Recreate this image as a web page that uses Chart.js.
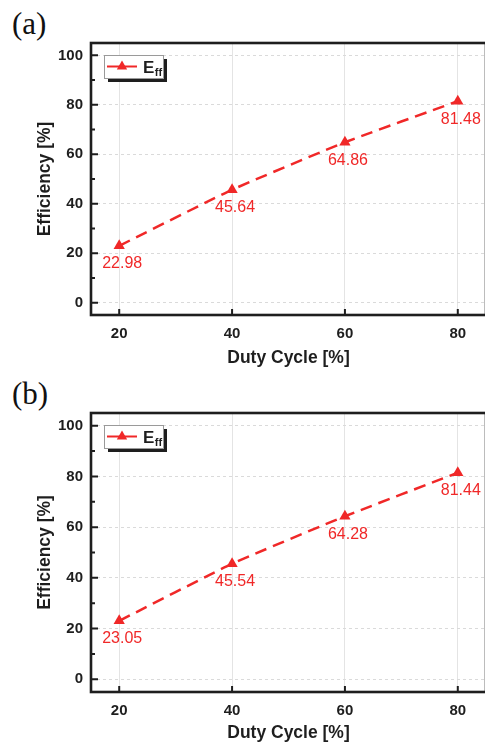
<!DOCTYPE html>
<html>
<head>
<meta charset="utf-8">
<script src="https://cdn.jsdelivr.net/npm/chart.js@4/dist/chart.umd.min.js"></script>
<style>
  html, body { margin: 0; padding: 0; background: #fff; overflow: hidden; }
  body { width: 485px; height: 746px; position: relative; }
  .panel { position: absolute; left: 0; width: 500px; }
  .tag { position: absolute; left: 12px; font-family: "Liberation Serif", "DejaVu Serif", serif; font-size: 31px; line-height: 1; color: #111; }
</style>
</head>
<body>
<div class="tag" style="top:8px;">(a)</div>
<div class="tag" style="top:378px;">(b)</div>
<div class="panel" style="top:0; height:372px;"><canvas id="ca"></canvas></div>
<div class="panel" style="top:372px; height:374px;"><canvas id="cb"></canvas></div>
<script>
// ---- data ----
const dutyCycle = [20, 40, 60, 80];
const effA = [22.98, 45.64, 64.86, 81.48];
const effB = [23.05, 45.54, 64.28, 81.44];
const xTicks = [20, 40, 60, 80];
const yTicks = [0, 20, 40, 60, 80, 100];
const yMinorTicks = [10, 30, 50, 70, 90];
const seriesName = 'E';
const seriesSub = 'ff';
const xTitle = 'Duty Cycle [%]';
const yTitle = 'Efficiency [%]';

const RED = '#f02828';
const INK = '#1e1e1e';
const FONT = 'Arial, "Liberation Sans", sans-serif';

const framePlugin = {
  id: 'frame',
  afterDatasetsDraw(chart) {
    const { ctx, chartArea: a, scales } = chart;
    const xs = scales.x, ys = scales.y;
    ctx.save();
    // ticks
    ctx.strokeStyle = INK;
    ctx.lineWidth = 2;
    ctx.beginPath();
    yTicks.forEach(v => { const p = ys.getPixelForValue(v); ctx.moveTo(a.left, p); ctx.lineTo(a.left + 7, p); });
    yMinorTicks.forEach(v => { const p = ys.getPixelForValue(v); ctx.moveTo(a.left, p); ctx.lineTo(a.left + 4, p); });
    xTicks.forEach(v => { const p = xs.getPixelForValue(v); ctx.moveTo(p, a.bottom); ctx.lineTo(p, a.bottom - 6); });
    ctx.stroke();
    // frame
    ctx.lineWidth = 2.6;
    ctx.strokeRect(a.left, a.top, a.right - a.left, a.bottom - a.top);
    // data labels
    const meta = chart.getDatasetMeta(0);
    const data = chart.data.datasets[0].data;
    ctx.fillStyle = RED;
    ctx.font = '16px ' + FONT;
    ctx.textAlign = 'center';
    ctx.textBaseline = 'middle';
    meta.data.forEach((pt, i) => {
      ctx.fillText(data[i].y.toFixed(2), pt.x + 3, pt.y + 18);
    });
    // legend
    const bx = a.left + 13, by = a.top + 12, bw = 59, bh = 23;
    ctx.fillStyle = INK;
    ctx.fillRect(bx + 4, by + 4, bw, bh);
    ctx.fillStyle = '#fff';
    ctx.fillRect(bx, by, bw, bh);
    ctx.strokeStyle = '#9a9a9a';
    ctx.lineWidth = 1;
    ctx.strokeRect(bx + 0.5, by + 0.5, bw, bh);
    const ly = by + bh / 2;
    ctx.strokeStyle = RED;
    ctx.lineWidth = 2;
    ctx.beginPath();
    ctx.moveTo(bx + 3, ly); ctx.lineTo(bx + 33, ly);
    ctx.stroke();
    ctx.fillStyle = RED;
    const tx = bx + 18, r = 6;
    ctx.beginPath();
    ctx.moveTo(tx, ly - r);
    ctx.lineTo(tx + r * 0.866, ly + r * 0.5);
    ctx.lineTo(tx - r * 0.866, ly + r * 0.5);
    ctx.closePath();
    ctx.fill();
    ctx.fillStyle = INK;
    ctx.textAlign = 'left';
    ctx.textBaseline = 'alphabetic';
    ctx.font = 'bold 17px ' + FONT;
    ctx.fillText(seriesName, bx + 39, ly + 6);
    const ew = ctx.measureText(seriesName).width;
    ctx.font = 'bold 11px ' + FONT;
    ctx.fillText(seriesSub, bx + 39 + ew + 0.5, ly + 9);
    ctx.restore();
  }
};

function makeChart(id, values, padTop, xAxisH, titlePadBottom) {
  return new Chart(document.getElementById(id), {
    type: 'line',
    data: {
      datasets: [{
        data: dutyCycle.map((x, i) => ({ x, y: values[i] })),
        borderColor: RED,
        backgroundColor: RED,
        borderWidth: 2.5,
        borderDash: [12, 7],
        tension: 0.15,
        pointStyle: 'triangle',
        pointRadius: 6.5,
        pointBorderWidth: 0,
        pointBackgroundColor: RED,
        fill: false
      }]
    },
    options: {
      responsive: true,
      maintainAspectRatio: false,
      animation: false,
      events: [],
      layout: { padding: { left: 0, top: padTop, right: 14, bottom: 0 } },
      plugins: { legend: { display: false }, tooltip: { enabled: false } },
      scales: {
        x: {
          type: 'linear', min: 15, max: 85,
          afterBuildTicks: s => { s.ticks = xTicks.map(v => ({ value: v })); },
          afterFit: s => { s.height = xAxisH; },
          grid: { color: '#e4e4e4', lineWidth: 1, drawTicks: false },
          border: { display: false },
          ticks: { color: INK, padding: 10, font: { family: FONT, size: 15, weight: 'bold' } },
          title: { display: true, text: xTitle, color: INK, padding: { top: 0, bottom: titlePadBottom },
                   font: { family: FONT, size: 17.5, weight: 'bold' } }
        },
        y: {
          type: 'linear', min: -5, max: 105,
          afterBuildTicks: s => { s.ticks = yTicks.map(v => ({ value: v })); },
          afterFit: s => { s.width = 91; },
          grid: { color: '#dadada', lineWidth: 1, drawTicks: false },
          border: { display: false, dash: [3, 3] },
          ticks: { color: INK, padding: 8, font: { family: FONT, size: 15, weight: 'bold' } },
          title: { display: true, text: yTitle, color: INK, padding: { top: 35, bottom: 0 },
                   font: { family: FONT, size: 17.5, weight: 'bold' } }
        }
      }
    },
    plugins: [framePlugin]
  });
}

makeChart('ca', effA, 43, 57, 3);
makeChart('cb', effB, 41, 54, 2);
</script>
</body>
</html>
